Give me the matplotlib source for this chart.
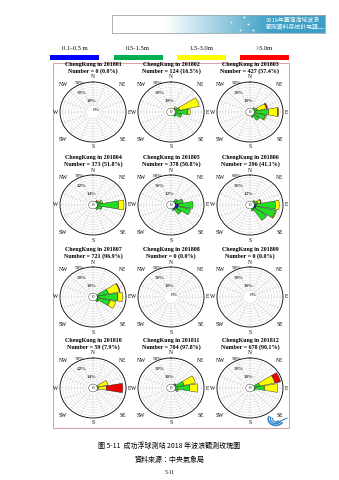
import numpy as np
import matplotlib
matplotlib.use('Agg')
import matplotlib.pyplot as plt
from matplotlib.patches import Rectangle, Arc

W, H = 339, 480

months = ['201801', '201802', '201803', '201804', '201805', '201806',
          '201807', '201808', '201809', '201810', '201811', '201812']
numbers = [0, 124, 427, 373, 378, 296, 721, 0, 0, 59, 704, 678]
percents = ['0.0', '16.5', '57.4', '51.8', '50.8', '41.1',
            '96.9', '0.0', '0.0', '7.9', '97.8', '90.1']
rmax = [50, 50, 50, 70, 60, 60, 50, 50, 50, 70, 50, 50]

# directions (deg from N, clockwise): NE, ENE, E, ESE, SE, SSE
dirs = [45, 67.5, 90, 112.5, 135, 157.5]
# frequency (%) per direction, one row per month
blue = [[0, 0, 0, 0, 0, 0], [0, 0, 0, 0, 0, 0], [0, 0, 0, 0, 0, 0],
        [0, 0, 0, 0, 0, 0], [0, 2, 7, 6, 3, 0], [0, 0, 4, 4, 2, 0],
        [0, 0, 1, 1, 0, 0], [0, 0, 0, 0, 0, 0], [0, 0, 0, 0, 0, 0],
        [0, 0, 0, 0, 0, 0], [0, 0, 0, 0, 0, 0], [0, 0, 0, 0, 0, 0]]
green = [[0, 0, 0, 0, 0, 0], [2, 8, 22, 12, 3, 0], [3, 6, 25, 20, 12, 3],
         [3, 10, 52, 12, 5, 0], [8, 15, 30, 27, 14, 4], [4, 8, 40, 42, 32, 5],
         [0, 20, 35, 22, 4, 0], [0, 0, 0, 0, 0, 0], [0, 0, 0, 0, 0, 0],
         [0, 2, 2, 0, 0, 0], [2, 16, 25, 4, 0, 0], [0, 10, 18, 2, 0, 0]]
yellow = [[0, 0, 0, 0, 0, 0], [3, 35, 4, 0, 0, 0], [0, 16, 16, 2, 0, 0],
          [2, 4, 13, 0, 0, 0], [0, 0, 0, 0, 0, 0], [0, 6, 8, 2, 0, 0],
          [0, 20, 8, 10, 0, 0], [0, 0, 0, 0, 0, 0], [0, 0, 0, 0, 0, 0],
          [0, 25, 20, 3, 0, 0], [1, 20, 14, 2, 0, 0], [0, 27, 23, 0, 0, 0]]
red = [[0, 0, 0, 0, 0, 0], [0, 0, 0, 0, 0, 0], [0, 2, 1, 0, 0, 0],
       [0, 0, 0, 0, 0, 0], [0, 0, 0, 0, 0, 0], [0, 1, 0, 0, 0, 0],
       [0, 1, 0, 0, 0, 0], [0, 0, 0, 0, 0, 0], [0, 0, 0, 0, 0, 0],
       [0, 0, 40, 0, 0, 0], [0, 0, 0, 0, 0, 0], [0, 10, 0, 0, 0, 0]]

classes = ['0.1-0.5 m', '0.5-1.5m', '1.5-3.0m', '>3.0m']
legend_colors = ['#0000ff', '#00b050', '#ffff00', '#ff0000']
rose_colors = ['#0000ee', '#22dd22', '#ffff00', '#ee0000']

serif = 'Liberation Serif'
cjk = ['Noto Sans CJK TC', 'DejaVu Sans']


def fx(x):
    return x / W


def fy(y):
    return 1 - y / H


fig = plt.figure(figsize=(W / 100, H / 100), dpi=100)
fig.patch.set_facecolor('white')

# header banner
bax = fig.add_axes([fx(112), fy(33), (325 - 112) / W, 18 / H])
grad = np.linspace(0, 1, 256).reshape(1, -1)
cmap = matplotlib.colors.LinearSegmentedColormap.from_list(
    'ban', ['#ffffff', '#ffffff', '#9fcfe2', '#3b9fc6', '#3b9fc6'])
bax.imshow(grad, aspect='auto', cmap=cmap, extent=[0, 1, 0, 1])
bax.set_xlim(0, 1)
bax.set_ylim(0, 1)
bax.set_xticks([])
bax.set_yticks([])
for s in bax.spines.values():
    s.set_edgecolor('#9aa8b0')
    s.set_linewidth(0.6)
bax.text(0.72, 0.68, '2018年臺灣海域波浪', color='white', fontsize=4.2,
         family=cjk, ha='left', va='center')
bax.text(0.72, 0.3, '觀測資料月統計年報', color='white', fontsize=4.2,
         family=cjk, ha='left', va='center')
bax.plot([0.93, 0.99], [0.3, 0.3], color='white', lw=0.4)
for px, py in [(0.56, 0.6), (0.64, 0.5), (0.66, 0.15), (0.62, 0.9), (0.6, 0.15)]:
    bax.plot(px, py, 'o', ms=1.5, mfc='white', mec='#7fb8d0', mew=0.3)

# legend
lx = [75, 138, 201, 264]
bx = [50, 114, 177, 240]
for i in range(4):
    fig.text(fx(lx[i]), fy(48), classes[i], fontsize=4.8, family=serif,
             ha='center', va='center')
    fig.patches.append(Rectangle((fx(bx[i]), fy(60)), 49 / W, 5 / H,
                                 transform=fig.transFigure,
                                 facecolor=legend_colors[i], edgecolor='none'))

# frame
fig.patches.append(Rectangle((fx(53), fy(428)), (289 - 53) / W, (428 - 63) / H,
                             transform=fig.transFigure, facecolor='none',
                             edgecolor='#d8a4a4', linewidth=0.8))

cxs = [93, 171, 250]
cys = [112, 205, 297, 388]
RX, RY = 33, 30
theta = np.radians(dirs)
width = np.radians(20)
spokes = np.radians(np.arange(0, 360, 22.5))

for k in range(12):
    cx = cxs[k % 3]
    cy = cys[k // 3]
    vmax = rmax[k]
    fig.text(fx(cx), fy(cy - 47.5), 'ChengKung in ' + months[k], fontsize=4.3,
             family=serif, weight='bold', ha='center', va='center')
    fig.text(fx(cx), fy(cy - 40.5), 'Number = %d (%s%%)' % (numbers[k], percents[k]),
             fontsize=4.3, family=serif, weight='bold', ha='center', va='center')

    ax = fig.add_axes([fx(cx - RX), fy(cy + RY), 2 * RX / W, 2 * RY / H],
                      projection='polar')
    ax.set_aspect('auto')
    ax.set_theta_zero_location('N')
    ax.set_theta_direction(-1)
    ax.set_rorigin(-vmax * 0.15)
    ax.set_ylim(0, vmax)
    ax.set_yticks(np.linspace(0, vmax, 11)[1:-1])
    ax.set_xticks([])
    ax.set_yticklabels([])
    ax.grid(True, axis='y', color='#b0b0b0', linestyle=(0, (1.5, 1.5)),
            linewidth=0.35)
    for t in spokes:
        ax.plot([t, t], [vmax * 0.1, vmax], color='#b0b0b0',
                linestyle=(0, (1.5, 1.5)), linewidth=0.35, zorder=0.5)
    ax.set_axisbelow(True)
    ax.spines['polar'].set_linewidth(0.6)
    ax.tick_params(length=0)

    bottom = np.zeros(len(dirs))
    for vals, col in zip([blue[k], green[k], yellow[k], red[k]], rose_colors):
        v = np.array(vals, dtype=float)
        m = v > 0
        if m.any():
            ax.bar(theta[m], v[m], width=width, bottom=bottom[m], color=col,
                   edgecolor='#202020', linewidth=0.3, zorder=3)
        bottom = bottom + v

    # ring labels
    for frac, ang in [(1.0, -24), (0.6, -32), (0.2, -12)]:
        ax.text(np.radians(ang), vmax * frac, '%d%%' % round(vmax * frac),
                fontsize=3.8, family=serif, ha='center', va='bottom')

    if numbers[k] == 0:
        # polar axes re-enable the inner spine at draw time, so hide it by colour
        ax.spines['inner'].set_edgecolor('none')
        ax.spines['inner'].set_linewidth(0)
        ax.text(0.55, 0.53, '0%', transform=ax.transAxes, fontsize=3.8,
                family=serif, ha='center', va='center')
    else:
        ax.spines['inner'].set_linewidth(0.35)
        ax.spines['inner'].set_edgecolor('#404040')
        ax.text(0.5, 0.5, '0', transform=ax.transAxes, fontsize=3.6,
                family=serif, ha='center', va='center', zorder=5)

    # direction labels (offsets in pixels outside the ellipse)
    for lab, ang, off in [('N', 0, 5), ('NE', 45, 9), ('SE', 135, 9),
                          ('S', 180, 5), ('SW', 225, 9), ('NW', 315, 9)]:
        a = np.radians(ang)
        tx = cx + (RX + off) * np.sin(a)
        ty = cy - (RY + off) * np.cos(a)
        fig.text(fx(tx), fy(ty), lab, fontsize=4, family=serif,
                 ha='center', va='center')
    fig.text(fx(cx + RX + 1.5), fy(cy), 'E', fontsize=4, family=serif,
             ha='left', va='center')
    fig.text(fx(cx - RX - 1.5), fy(cy), 'W', fontsize=4, family=serif,
             ha='right', va='center')

# logo in lower right corner
lax = fig.add_axes([fx(266), fy(429), 22 / W, 18 / H])
lax.set_xlim(0, 1)
lax.set_ylim(0, 1)
lax.axis('off')
for r, lw in [(0.35, 1.2), (0.25, 1.0), (0.15, 0.8)]:
    lax.add_patch(Arc((0.45, 0.55), 2 * r, 2 * r, theta1=150, theta2=330,
                      color='#3a86c8', lw=lw))
lax.plot([0.3, 0.95], [0.25, 0.6], color='#3a86c8', lw=0.8)

# caption
fig.text(0.5, fy(446), '圖 5-11  成功浮球測站 2018 年波浪觀測玫瑰圖',
         fontsize=5, family=cjk, ha='center', va='center')
fig.text(0.5, fy(460), '資料來源：中央氣象局', fontsize=5, family=cjk,
         ha='center', va='center')
fig.text(0.5, fy(472), '5-11', fontsize=4, family=serif, ha='center', va='center')

fig.savefig('out.png', dpi=100)
